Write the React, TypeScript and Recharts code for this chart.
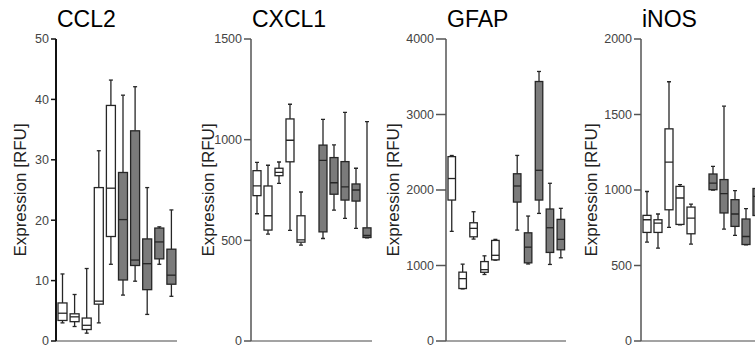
import { Bar, ComposedChart, XAxis, YAxis } from "recharts";

const FONT = "'Liberation Sans', Arial, Helvetica, sans-serif";
const GREY = "#7b7b7b";
const EDGE = "#262626";

// w = white box, g = grey box, "" = empty slot
const GROUPS_CCL2 = ["w", "w", "w", "w", "w", "g", "g", "g", "g", "g"];
const GROUPS_11 = ["w", "w", "w", "w", "w", "", "g", "g", "g", "g", "g"];

const CCL2_MIN = [3.0, 2.4, 1.3, 3.0, 12.7, 7.6, 9.9, 4.4, 12.7, 7.4];
const CCL2_Q1 = [3.4, 3.2, 1.9, 6.1, 17.3, 10.1, 12.5, 8.5, 13.6, 9.4];
const CCL2_MED = [4.6, 4.0, 2.6, 6.6, 25.3, 20.1, 13.4, 12.8, 16.4, 10.9];
const CCL2_Q3 = [6.3, 4.5, 3.8, 25.4, 39.0, 27.9, 34.8, 16.9, 18.7, 15.2];
const CCL2_MAX = [11.1, 7.7, 12.0, 31.5, 43.2, 40.7, 42.1, 25.4, 18.9, 21.7];

const CXCL1_MIN = [632, 531, 783, 549, 476, null, 509, 650, 609, 559, 512];
const CXCL1_Q1 = [722, 551, 821, 890, 491, null, 542, 729, 700, 695, 514];
const CXCL1_MED = [770, 622, 838, 997, 502, null, 897, 786, 766, 750, 524];
const CXCL1_Q3 = [846, 770, 858, 1103, 622, null, 973, 911, 891, 780, 562];
const CXCL1_MAX = [887, 873, 889, 1176, 740, null, 1101, 974, 1136, 858, 1090];

const GFAP_MIN = [1452, 690, 1350, 881, 1071, null, 1469, 1020, 1690, 1014, 1102];
const GFAP_Q1 = [1867, 695, 1380, 910, 1075, null, 1840, 1035, 1867, 1173, 1208];
const GFAP_MED = [2152, 826, 1492, 945, 1135, null, 2053, 1243, 2261, 1500, 1346];
const GFAP_Q3 = [2442, 912, 1566, 1052, 1332, null, 2215, 1433, 3437, 1748, 1611];
const GFAP_MAX = [2457, 1018, 1712, 1128, 1346, null, 2458, 1655, 3570, 2089, 1757];

const INOS_MIN = [655, 615, 752, 770, 642, null, 1000, 741, 699, 637, 752];
const INOS_Q1 = [719, 719, 869, 772, 710, null, 1002, 848, 759, 639, 831];
const INOS_MED = [803, 781, 1184, 947, 814, null, 1046, 976, 841, 692, 958];
const INOS_Q3 = [832, 803, 1405, 1024, 887, null, 1106, 1069, 936, 808, 1010];
const INOS_MAX = [990, 841, 1717, 1035, 907, null, 1157, 1555, 996, 876, 1223];

const CCL2_TICKS = [0, 10, 20, 30, 40, 50];
const CXCL1_TICKS = [0, 500, 1000, 1500];
const GFAP_TICKS = [0, 1000, 2000, 3000, 4000];
const INOS_TICKS = [0, 500, 1000, 1500, 2000];

function toRows(groups, min, q1, med, q3, max) {
  return groups.map((g, i) => ({
    slot: `s${i}`,
    group: g,
    min: min[i],
    q1: q1[i],
    med: med[i],
    q3: q3[i],
    max: max[i],
  }));
}

function BoxShape(props: any) {
  const { x, y, width, height, payload } = props;
  if (!payload || payload.max == null || !height) return null;
  const { min, q1, med, q3, max, group } = payload;
  // bar spans [min, max]; place quartiles on the same linear scale
  const py = (v: number) => y + (height * (max - v)) / (max - min);
  const cx = x + width / 2;
  const cap = 2;
  const fill = group === "g" ? GREY : "#ffffff";
  return (
    <g>
      <line x1={cx} x2={cx} y1={py(max)} y2={py(q3)} stroke={EDGE} strokeWidth={1.3} />
      <line x1={cx - cap} x2={cx + cap} y1={py(max)} y2={py(max)} stroke={EDGE} strokeWidth={1.3} />
      <line x1={cx} x2={cx} y1={py(q1)} y2={py(min)} stroke={EDGE} strokeWidth={1.3} />
      <line x1={cx - cap} x2={cx + cap} y1={py(min)} y2={py(min)} stroke={EDGE} strokeWidth={1.3} />
      <rect
        x={x}
        y={py(q3)}
        width={width}
        height={Math.max(py(q1) - py(q3), 0.5)}
        fill={fill}
        stroke={EDGE}
        strokeWidth={1.3}
      />
      <line x1={x} x2={x + width} y1={py(med)} y2={py(med)} stroke={EDGE} strokeWidth={1.3} />
    </g>
  );
}

function Panel({
  title,
  left,
  axisWidth,
  plotWidth,
  rows,
  domain,
  ticks,
  barSize,
  axisColor,
  axisStroke,
  tickSize,
  labelX,
}) {
  const width = axisWidth + plotWidth;
  return (
    <div style={{ position: "absolute", left, top: 0, width, height: 347 }}>
      <ComposedChart
        width={width}
        height={347}
        data={rows}
        margin={{ top: 39, right: 0, bottom: 0, left: 0 }}
        barSize={barSize}
      >
        <XAxis
          dataKey="slot"
          tick={false}
          tickLine={false}
          height={6}
          axisLine={{ stroke: "#858585", strokeWidth: 1.5 }}
        />
        <YAxis
          type="number"
          domain={domain}
          ticks={ticks}
          interval={0}
          width={axisWidth}
          tickSize={tickSize}
          allowDataOverflow
          tick={{ fontSize: 12.5, fill: "#444", fontFamily: FONT }}
          axisLine={{ stroke: axisColor, strokeWidth: axisStroke }}
          tickLine={{ stroke: axisColor, strokeWidth: 1.5 }}
          label={() => (
            <text
              x={labelX}
              y={190}
              transform={`rotate(-90, ${labelX}, 190)`}
              textAnchor="middle"
              dominantBaseline="central"
              fontSize={17}
              fontFamily={FONT}
              fill="#222"
            >
              Expression [RFU]
            </text>
          )}
        />
        <Bar
          dataKey={(d) => (d.max == null ? null : [d.min, d.max])}
          shape={BoxShape}
          isAnimationActive={false}
        />
      </ComposedChart>
      <div
        style={{
          position: "absolute",
          left: axisWidth + 1,
          top: 8,
          fontSize: 23,
          lineHeight: "23px",
          fontFamily: FONT,
          color: "#000",
          whiteSpace: "nowrap",
        }}
      >
        {title}
      </div>
    </div>
  );
}

export default function App() {
  return (
    <div
      style={{
        position: "absolute",
        left: 0,
        top: 0,
        width: 755,
        height: 347,
        overflow: "hidden",
        background: "#fff",
      }}
    >
      <Panel
        title="CCL2"
        left={0}
        axisWidth={56}
        plotWidth={121}
        rows={toRows(GROUPS_CCL2, CCL2_MIN, CCL2_Q1, CCL2_MED, CCL2_Q3, CCL2_MAX)}
        domain={[0, 50]}
        ticks={CCL2_TICKS}
        barSize={9}
        axisColor="#111"
        axisStroke={2}
        tickSize={5}
        labelX={20}
      />
      <Panel
        title="CXCL1"
        left={190}
        axisWidth={61}
        plotWidth={121}
        rows={toRows(GROUPS_11, CXCL1_MIN, CXCL1_Q1, CXCL1_MED, CXCL1_Q3, CXCL1_MAX)}
        domain={[0, 1500]}
        ticks={CXCL1_TICKS}
        barSize={8}
        axisColor="#555"
        axisStroke={1.5}
        tickSize={7}
        labelX={18}
      />
      <Panel
        title="GFAP"
        left={380}
        axisWidth={66}
        plotWidth={120}
        rows={toRows(GROUPS_11, GFAP_MIN, GFAP_Q1, GFAP_MED, GFAP_Q3, GFAP_MAX)}
        domain={[0, 4000]}
        ticks={GFAP_TICKS}
        barSize={7.5}
        axisColor="#555"
        axisStroke={1.5}
        tickSize={10}
        labelX={13}
      />
      <Panel
        title="iNOS"
        left={570}
        axisWidth={71}
        plotWidth={121}
        rows={toRows(GROUPS_11, INOS_MIN, INOS_Q1, INOS_MED, INOS_Q3, INOS_MAX)}
        domain={[0, 2000]}
        ticks={INOS_TICKS}
        barSize={8}
        axisColor="#555"
        axisStroke={1.5}
        tickSize={7}
        labelX={21}
      />
    </div>
  );
}
